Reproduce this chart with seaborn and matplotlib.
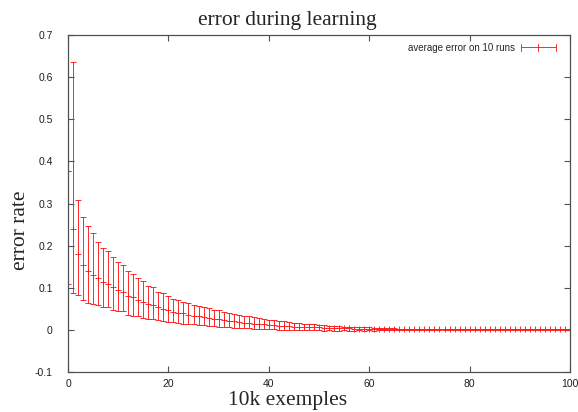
import matplotlib
matplotlib.use("Agg")
import matplotlib.pyplot as plt
import seaborn as sns
import pandas as pd
import numpy as np
from matplotlib.lines import Line2D
from matplotlib.legend_handler import HandlerBase

# ---- data ----
steps = list(range(0, 101))

err_mean = [0.377, 0.240, 0.180, 0.155, 0.140, 0.130, 0.123, 0.113, 0.109, 0.101,
            0.095, 0.089, 0.081, 0.078, 0.071, 0.066, 0.061, 0.059, 0.054, 0.050,
            0.047, 0.043, 0.041, 0.039, 0.036, 0.034, 0.032, 0.030, 0.028, 0.027,
            0.025, 0.023, 0.021, 0.020, 0.019, 0.017, 0.016, 0.015, 0.014, 0.013,
            0.012, 0.011, 0.010, 0.010, 0.009, 0.008, 0.008, 0.007, 0.007, 0.006,
            0.006, 0.005, 0.005, 0.005, 0.004, 0.004, 0.004, 0.003, 0.003, 0.003,
            0.003, 0.002, 0.002, 0.002, 0.002, 0.002, 0.001, 0.001, 0.001, 0.001,
            0.001, 0.001, 0.001, 0.001, 0.001, 0.001, 0.001, 0.001, 0.001, 0.001,
            0.001, 0.001, 0.001, 0.001, 0.001, 0.001, 0.001, 0.001, 0.001, 0.001,
            0.001, 0.001, 0.001, 0.001, 0.001, 0.001, 0.001, 0.001, 0.001, 0.001,
            0.001]

err_high = [0.377, 0.636, 0.308, 0.268, 0.246, 0.229, 0.209, 0.194, 0.188, 0.172,
            0.162, 0.153, 0.140, 0.132, 0.123, 0.116, 0.105, 0.101, 0.090, 0.087,
            0.080, 0.074, 0.070, 0.066, 0.063, 0.060, 0.057, 0.054, 0.051, 0.048,
            0.046, 0.043, 0.040, 0.038, 0.036, 0.034, 0.032, 0.030, 0.028, 0.026,
            0.024, 0.023, 0.021, 0.020, 0.019, 0.017, 0.016, 0.015, 0.014, 0.013,
            0.012, 0.011, 0.010, 0.010, 0.009, 0.008, 0.008, 0.007, 0.007, 0.006,
            0.006, 0.005, 0.005, 0.004, 0.004, 0.004, 0.003, 0.002, 0.002, 0.002,
            0.002, 0.002, 0.002, 0.002, 0.002, 0.002, 0.002, 0.002, 0.002, 0.002,
            0.002, 0.002, 0.002, 0.002, 0.002, 0.002, 0.002, 0.002, 0.002, 0.002,
            0.002, 0.002, 0.002, 0.002, 0.002, 0.002, 0.002, 0.002, 0.002, 0.002,
            0.002]

err_low = [0.108, 0.087, 0.083, 0.071, 0.064, 0.061, 0.058, 0.055, 0.054, 0.047,
           0.044, 0.044, 0.036, 0.034, 0.032, 0.028, 0.025, 0.025, 0.023, 0.021,
           0.018, 0.018, 0.016, 0.015, 0.014, 0.013, 0.012, 0.011, 0.010, 0.009,
           0.008, 0.007, 0.006, 0.005, 0.005, 0.004, 0.004, 0.003, 0.002, 0.002,
           0.001, 0.001, 0.000, 0.000, -0.001, -0.001, -0.001, -0.001, -0.001, -0.001,
           -0.001, -0.002, -0.001, -0.002, -0.002, -0.001, -0.002, -0.002, -0.001, -0.002,
           -0.001, -0.002, -0.001, -0.001, -0.001, -0.001, 0.000, 0.000, 0.000, 0.000,
           0.000, 0.000, 0.000, 0.000, 0.000, 0.000, 0.000, 0.000, 0.000, 0.000,
           0.000, 0.000, 0.000, 0.000, 0.000, 0.000, 0.000, 0.000, 0.000, 0.000,
           0.000, 0.000, 0.000, 0.000, 0.000, 0.000, 0.000, 0.000, 0.000, 0.000,
           0.000]

title_text = "error during learning"
x_label = "10k exemples"
y_label = "error rate"
series_label = "average error on 10 runs"
x_ticks = [0, 20, 40, 60, 80, 100]
y_ticks = [-0.1, 0, 0.1, 0.2, 0.3, 0.4, 0.5, 0.6, 0.7]
y_tick_labels = ["-0.1", "0", "0.1", "0.2", "0.3", "0.4", "0.5", "0.6", "0.7"]

# long form: three rows per step (low / mean / high); median = mean, range = low..high
df = pd.DataFrame({
    "step": steps * 3,
    "err": err_low + err_mean + err_high,
})

sns.set_style("white")
plt.rcParams["font.family"] = ["Liberation Sans", "DejaVu Sans"]

fig = plt.figure(figsize=(5.78, 4.12), dpi=100)
ax = fig.add_axes([68 / 578, 1 - 372 / 412, (570 - 68) / 578, (372 - 35) / 412])

RED = "#ff1a1a"
LW = 0.65
sns.lineplot(data=df, x="step", y="err", estimator="median",
             errorbar=lambda v: (v.min(), v.max()),
             err_style="bars", color=RED, marker="+", linestyle="",
             markersize=5, markeredgewidth=LW, markeredgecolor=RED,
             err_kws=dict(capsize=2.2, elinewidth=LW, capthick=LW),
             ax=ax, legend=False)

ax.set_xlim(0, 100)
ax.set_ylim(-0.1, 0.7)
ax.set_xticks(x_ticks)
ax.set_xticklabels([str(t) for t in x_ticks])
ax.set_yticks(y_ticks)
ax.set_yticklabels(y_tick_labels)
ax.tick_params(direction="in", length=4, width=0.8, color="#505050",
               labelsize=7.5, labelcolor="#202020", top=True, right=True,
               bottom=True, left=True)
ax.tick_params(axis="y", pad=11)
ax.tick_params(axis="x", pad=5)
for sp in ax.spines.values():
    sp.set_color("#505050")
    sp.set_linewidth(0.9)
    sp.set_visible(True)
ax.set_xlabel("")
ax.set_ylabel("")


class ErrBarHandler(HandlerBase):
    def create_artists(self, legend, orig_handle, xdescent, ydescent,
                       width, height, fontsize, trans):
        y = height / 2 - ydescent
        x0, x1 = -xdescent, width - xdescent
        xm = (x0 + x1) / 2
        h = 2.5
        kw = dict(color=RED, lw=LW, transform=trans)
        return [Line2D([x0, x1], [y, y], **kw),
                Line2D([x0, x0], [y - h, y + h], **kw),
                Line2D([x1, x1], [y - h, y + h], **kw),
                Line2D([xm, xm], [y - h, y + h], **kw)]


proxy = Line2D([], [], color=RED)
ax.legend([proxy], [series_label], handler_map={Line2D: ErrBarHandler()},
          loc="upper right", frameon=False, fontsize=7, markerfirst=False,
          handlelength=3.6, handletextpad=0.6, borderaxespad=0.4,
          bbox_to_anchor=(0.987, 1.0))

serif = ["Liberation Serif", "DejaVu Serif"]
fig.text(0.497, 1 - 25 / 412, title_text, ha="center", va="baseline",
         fontsize=15.5, family=serif)
fig.text(0.497, 1 - 405 / 412, x_label, ha="center", va="baseline",
         fontsize=15.5, family=serif)
fig.text(0.036, 1 - 230 / 412, y_label, ha="center", va="center",
         rotation=90, fontsize=15.5, family=serif)

fig.savefig("out.png", dpi=100)
